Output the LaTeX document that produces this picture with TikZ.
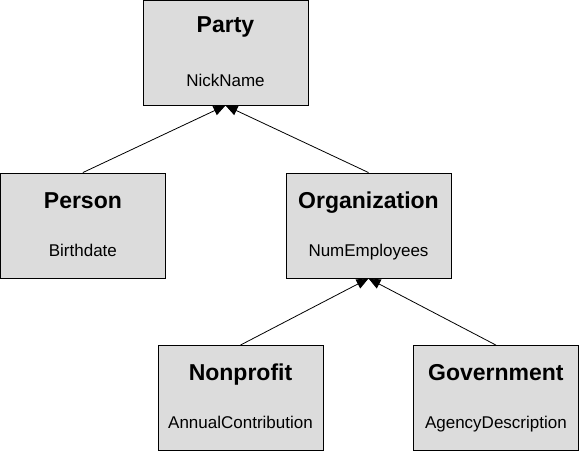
\documentclass[tikz,border=0pt]{standalone}
\usepackage{fontspec}
\setmainfont{Liberation Sans}
\usetikzlibrary{arrows.meta}
\definecolor{boxfill}{RGB}{220,220,220}
\begin{document}
\begin{tikzpicture}[x=1pt,y=-1pt,
  classbox/.style={draw=black,fill=boxfill,line width=0.9pt,rectangle,inner sep=0pt,minimum width=165pt,minimum height=105pt},
  titletext/.style={anchor=base,inner sep=0pt,font=\fontsize{23}{27}\selectfont\bfseries},
  attrtext/.style={anchor=base,inner sep=0pt,font=\fontsize{17}{20}\selectfont},
  inherit/.style={draw=black,line width=0.8pt,-{Triangle[length=12pt,width=10pt]}}]
\useasboundingbox (0,0) rectangle (579,451);
% boxes
\node[classbox] (party) at (225.5,52.5) {};
\node[classbox] (person) at (82.9,225.5) {};
\node[classbox] (org) at (368.5,225.5) {};
\node[classbox] (nonprofit) at (240.5,398) {};
\node[classbox] (gov) at (495.9,398) {};
% texts
\node[titletext] (partyT) at (225.5,32) {Party};
\node[attrtext] (partyA) at (225.5,86) {NickName};
\node[titletext] (personT) at (82.9,208) {Person};
\node[attrtext] (personA) at (82.9,256) {Birthdate};
\node[titletext] (orgT) at (368.5,208) {Organization};
\node[attrtext] (orgA) at (368.5,256) {NumEmployees};
\node[titletext] (nonprofitT) at (240.5,380) {Nonprofit};
\node[attrtext] (nonprofitA) at (240.5,428) {AnnualContribution};
\node[titletext] (govT) at (495.9,380) {Government};
\node[attrtext] (govA) at (495.9,428) {AgencyDescription};
% connectors
\draw[inherit] (person.north) -- (party.south);
\draw[inherit] (org.north) -- (party.south);
\draw[inherit] (nonprofit.north) -- (org.south);
\draw[inherit] (gov.north) -- (org.south);
\end{tikzpicture}
\end{document}
